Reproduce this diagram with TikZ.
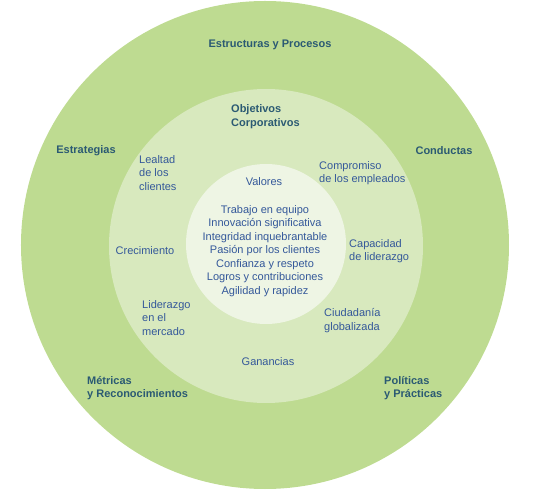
\documentclass[tikz,border=0pt]{standalone}
\usepackage{fontspec}
\setmainfont{Liberation Sans}
\usepackage{xcolor}
\usepackage{tikz}
\usetikzlibrary{positioning}
\definecolor{ringouter}{HTML}{BEDB91}
\definecolor{ringmiddle}{HTML}{D8E9BE}
\definecolor{ringinner}{HTML}{EEF5E4}
\definecolor{headteal}{HTML}{2B5A73}
\definecolor{itemblue}{HTML}{34589A}
\tikzset{
  ring/.style={circle, draw=none, inner sep=0pt},
  headlabel/.style={font=\fontsize{11}{13.5}\selectfont\bfseries, text=headteal, align=left, inner sep=0pt},
  itemlabel/.style={font=\fontsize{11}{13.5}\selectfont, text=itemblue, align=left, inner sep=0pt},
}

\begin{document}
\begin{tikzpicture}[x=1pt, y=1pt]
  \useasboundingbox (-265,-250) rectangle (279,245);

  % Three concentric rings, lightest in the middle
  \node[ring, fill=ringouter, minimum size=488pt] (outer) at (0,0) {};
  \node[ring, fill=ringmiddle, minimum size=314pt] (middle) at (1,-1) {};
  \node[ring, fill=ringinner, minimum size=160pt] (inner) at (1,1) {};

  % Outer ring labels
  \node[headlabel] (estructuras) at (5,200) {Estructuras y Procesos};
  \node[headlabel] (estrategias) at (-179,94) {Estrategias};
  \node[headlabel] (conductas) at (179,94) {Conductas};
  \node[headlabel, anchor=west] (metricas) at (-178,-143) {Métricas\\y Reconocimientos};
  \node[headlabel, anchor=west] (politicas) at (119,-143) {Políticas\\y Prácticas};

  % Middle ring labels
  \node[headlabel, anchor=west] (objetivos) at (-34,128.5) {Objetivos\\Corporativos};
  \node[itemlabel, anchor=west] (lealtad) at (-126,72) {Lealtad\\de los\\clientes};
  \node[itemlabel, anchor=west] (compromiso) at (54,72) {Compromiso\\de los empleados};
  \node[itemlabel] (crecimiento) at (-120,-6) {Crecimiento};
  \node[itemlabel, anchor=west] (capacidad) at (84,-6) {Capacidad\\de liderazgo};
  \node[itemlabel, anchor=west] (liderazgo) at (-123,-73) {Liderazgo\\en el\\mercado};
  \node[itemlabel, anchor=west] (ciudadania) at (59,-75.5) {Ciudadanía\\globalizada};
  \node[itemlabel] (ganancias) at (3,-117) {Ganancias};

  % Inner circle: values
  \node[itemlabel] (valores) at (-1,63) {Valores};
  \node[itemlabel, align=center] (lista) at (0,-6)
    {Trabajo en equipo\\Innovación significativa\\Integridad inquebrantable\\
     Pasión por los clientes\\Confianza y respeto\\Logros y contribuciones\\
     Agilidad y rapidez};
\end{tikzpicture}
\end{document}
